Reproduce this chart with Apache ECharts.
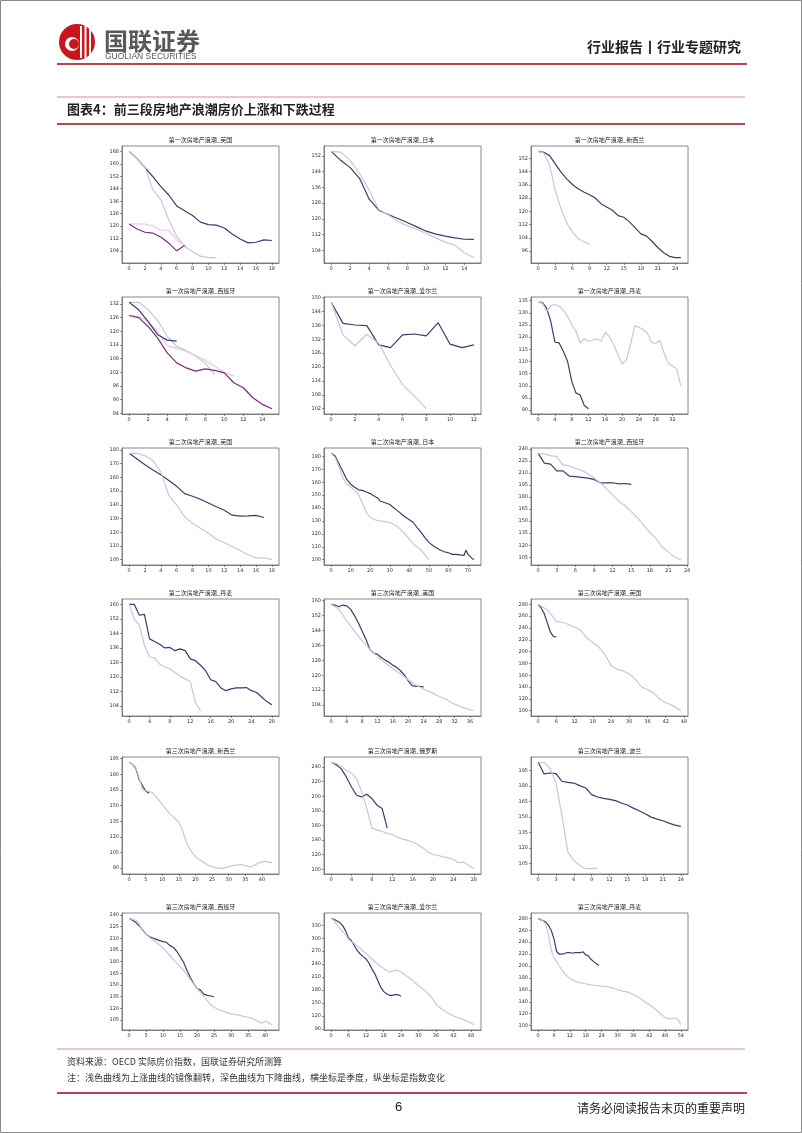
<!DOCTYPE html>
<html>
<head>
<meta charset="utf-8">
<script src="https://cdn.jsdelivr.net/npm/echarts@6/dist/echarts.min.js"></script>
<style>
  html, body { margin: 0; padding: 0; background: #fff; }
  #page { width: 802px; height: 1133px; }
</style>
</head>
<body>
<div id="page"></div>
<script>
// --- values (x = quarter index unless given as [x, y]) ---
const uk1Dark = [168, 163.3, 157.6, 151.7, 145.4, 140, 133, 129.9, 126.9, 122.6, 121, 120.7, 118.8, 115, 111.8, 109.3, 109.7, 111.2, 110.8]
const uk1Light = [168, 163.3, 157.6, 143.4, 136.9, 124.1, 113.5, 107.2, 103.6, 100.8, 99.8, 99.8]
const uk1Purple = [121.4, 118.2, 116.1, 115.5, 113.1, 109.1, 104.2, 107.6]
const uk1Pink = [121.4, 121.4, 121.4, 120.1, 117.4, 117.4, 111.2, 107.6]

const jp1Dark = [154.4, 149.8, 146.1, 140.5, 130, 124.4, 122.2, 120.2, 118.1, 115.9, 113.7, 112.2, 111.2, 110.3, 109.6, 109.5]
const jp1Light = [154.4, 154, 149.8, 143, 134.6, 124.9, 121.9, 118.8, 116.4, 114.7, 112.5, 110.3, 108, 106.6, 102.7, 100.2]

const nz1Dark = [156.2, 155.6, 153.6, 148.6, 143.6, 139.6, 136.2, 133.6, 131.6, 130, 128, 124.6, 122.6, 120.6, 117.4, 116.4, 113.6, 110, 106.4, 105, 101.6, 98, 95, 92.8, 92, 92]
const nz1Light = [156.2, 155.2, 148, 132.6, 121.6, 113, 107.6, 103.6, 101.6, 100.2]

const es1Dark = [132.7, 129.4, 124.2, 118.5, 116.1, 115.7]
const es1Light = [132.7, 132.7, 129.4, 124.7, 117.7, 113.4, 111.5, 109, 106, 101]
const es1Purple = [126.9, 126, 122.1, 117, 110.5, 106.1, 103.9, 102.5, 103.5, 102.8, 101.7, 97.4, 95.2, 90.8, 87.9, 86]
const es1Pink = [126.9, 126.5, 124.3, 119.9, 113.7, 112.5, 111.2, 109.3, 107.3, 104.6, 102, 100.3]

const ie1Dark = [148, 138.9, 138.2, 137.9, 129.6, 128.4, 133.9, 134.3, 133.5, 139.2, 129.9, 128.4, 129.6]
const ie1Light = [148, 133.9, 129.2, 134.2, 130.3, 120.7, 112.4, 107.3, 102]

const dk1Dark = [134.3, 134.3, 132, 126.5, 117.9, 117.6, 114.2, 110.1, 101.9, 97.1, 96.2, 91.9, 90.6]
const dk1Light = [134.3, 134, 130.6, 132.9, 133.4, 132.7, 131, 128.6, 125.2, 122.4, 117.6, 119.3, 118.3, 118.7, 119.3, 118.3, 122, 120.1, 117, 112.9, 109, 110.6, 117, 124.5, 124.1, 123.1, 121.7, 117.9, 117.3, 118.7, 113.5, 109.4, 108.1, 107, 99.9]

const uk2Dark = [177.6, 173.5, 169.2, 165.5, 161.9, 157.8, 153.5, 148.2, 146.3, 144.1, 141.4, 138.6, 136.1, 132.5, 131.8, 132, 132.3, 130.8]
const uk2Light = [177.6, 177.6, 175.9, 172.3, 163.9, 147, 139.8, 131.3, 126.5, 122.9, 119.3, 114.9, 112.5, 109.6, 106.7, 103.6, 101.2, 101.4, 100]

const jp2Dark = [[0, 182.4], [1, 181], [2, 180.5], [4, 174.4], [6, 168.3], [8, 162.2], [10, 158.5], [12, 156.1], [14, 154.1], [16, 153.7], [18, 152.4], [20, 151.2], [22, 149.3], [24, 147.6], [25, 145.5], [26, 145.1], [28, 143.9], [30, 142.7], [32, 140.2], [34, 137.8], [36, 135.4], [38, 132.9], [40, 131], [42, 128.8], [44, 124.9], [46, 121.2], [48, 117.1], [50, 113.4], [52, 111], [54, 109], [56, 107.3], [58, 106.1], [60, 105.4], [62, 104.1], [64, 104.1], [66, 103.7], [68, 103.4], [69, 107.3], [70, 104.1], [72, 101.2], [73, 100]]
const jp2Light = [[0, 182.4], [2, 179.3], [4, 172], [6, 163.4], [8, 158.5], [10, 156.1], [12, 153.7], [14, 150.5], [16, 143.9], [18, 136.6], [20, 132.9], [22, 131.2], [24, 130.2], [26, 129.8], [28, 129.3], [30, 128.8], [32, 127.3], [34, 125.6], [36, 122.7], [38, 119.5], [40, 115.9], [42, 112.2], [44, 109.8], [46, 107.3], [48, 103.7], [50, 100]]

const es2Dark = [234.5, 222.3, 221, 212.6, 212.6, 206.2, 205.4, 204.6, 203.7, 202, 197.8, 197.8, 197.8, 196.5, 196.9, 195.7]
const es2Light = [234.5, 233.7, 231.6, 230.3, 220.2, 218.9, 215.9, 213.4, 209.2, 204.1, 197.8, 190.6, 183, 174.6, 169.5, 161.9, 154.3, 145, 135.8, 128.2, 117.7, 111.4, 105, 102]

const dk2Dark = [160, 160, 154, 154.5, 141, 139.5, 138, 136, 136.3, 134.5, 135.5, 134.5, 130, 129, 126.5, 123.5, 118.5, 117.5, 114, 112.5, 113.5, 114, 114, 114.2, 112.5, 111.5, 109, 106.5, 104.8]
const dk2Light = [160, 152, 148.5, 137.5, 131, 130.5, 127, 125.5, 124.5, 122.5, 120.5, 119, 117.5, 106, 101.5]

const us3Dark = [158, 157.6, 156.7, 157.6, 157.2, 155.4, 152.2, 148.3, 143.8, 139.4, 134, 131.9, 131.3, 129.5, 128.1, 126.9, 125.4, 124.2, 122.4, 120.1, 117, 114.4, 114, 114, 113.8]
const us3Light = [[0, 158], [2, 155.4], [4, 149.2], [6, 143.8], [8, 138.5], [10, 134], [12, 130.1], [14, 126.5], [16, 123.6], [18, 120.6], [20, 117.6], [22, 114.7], [24, 112.6], [26, 110.8], [28, 108.6], [30, 106.9], [32, 104.5], [34, 102.8], [36, 101.5], [37, 101]]

const uk3Dark = [280, 273.8, 264.5, 249, 233.5, 225.8, 224.7]
const uk3Light = [[0, 280], [3, 270.7], [4, 264.5], [6, 251.6], [9, 248], [12, 241.2], [14, 236], [16, 223.1], [18, 215.4], [20, 207.6], [22, 194.7], [24, 176.6], [26, 169.9], [28, 167.3], [30, 162.2], [32, 153.4], [34, 140.5], [36, 135.3], [38, 130.1], [40, 119.7], [42, 113.5], [44, 109.4], [46, 103.1], [47, 100]]

const nz3Dark = [191.5, 189.5, 185.8, 175.1, 169.2, 163.9, 161.9]
const nz3Light = [[0, 191.5], [1, 189.5], [2, 186.5], [3, 177], [4, 165], [6, 163.5], [7, 162.5], [9, 155], [12, 143], [15, 134], [16, 127], [17, 117], [18, 110], [19, 105], [20, 101], [22, 96.5], [24, 92.5], [26, 90.5], [28, 89.5], [30, 91.5], [32, 93], [34, 93.5], [36, 91.5], [37, 91.5], [39, 95], [41, 96.5], [43, 95]]

const ru3Dark = [246.4, 243, 237.4, 226.1, 212.6, 201.4, 199.1, 202.7, 196.8, 187.8, 183.3, 156.3]
const ru3Light = [246.4, 245, 240.5, 235.1, 231.5, 223.9, 205.9, 183.3, 156.3, 154, 151.8, 149.5, 147.3, 144.1, 141.4, 139.6, 137.4, 133.8, 129.3, 123.9, 120.3, 118.9, 117.1, 115.8, 113.5, 109, 109.9, 105.4, 100.9]

const pl3Dark = [202.7, 191.5, 192.4, 191.8, 184.4, 183.4, 182.7, 180.2, 177.9, 171.5, 169.2, 167.9, 167, 165.7, 163.4, 161.5, 158.5, 156, 153.1, 149.8, 147.9, 146.3, 144, 142.1, 140.8]
const pl3Light = [202.7, 202.5, 197, 183, 151, 116, 108, 103, 100, 100, 100.5]

const es3Dark = [235.8, 233.3, 230.3, 226.1, 220.5, 215.4, 212.1, 210.4, 208.7, 207, 205.7, 204.9, 200.6, 198.5, 193.4, 186.6, 179.4, 168.8, 159.5, 151.8, 145.4, 143.3, 138.2, 136.5, 135.7, 134.8]
const es3Light = [[0, 235.8], [2, 233.3], [3, 228.2], [4, 219.7], [6, 211.2], [8, 204.9], [10, 197.6], [12, 187.9], [14, 178.1], [16, 168.8], [18, 156.9], [20, 145.4], [22, 134.8], [24, 124.2], [26, 118.7], [28, 115.7], [30, 112.7], [32, 111.4], [34, 109.3], [36, 107.2], [38, 103], [39, 100.8], [40, 103], [41, 101.7], [42, 98.8]]

const ie3Dark = [346, 343.8, 340, 336.1, 328.5, 317, 300.2, 294.1, 282.6, 271.1, 263.5, 257.4, 252, 242.1, 229.1, 217.6, 202.3, 187, 177.1, 171.7, 167.9, 167.9, 169.4, 169.4, 165.6]
const ie3Light = [[0, 346], [1, 341], [2, 330], [3, 322], [4, 315], [5, 307], [6, 297], [7, 292], [8, 288], [10, 276], [12, 264], [14, 252], [16, 240], [18, 230], [20, 222], [21, 224], [22, 226], [23, 225], [24, 222], [26, 212], [28, 202], [30, 190], [32, 180], [34, 167], [36, 148], [38, 136], [40, 127], [42, 120], [44, 115], [45, 113], [46, 110], [48, 104.5], [49, 100]]

const dk3Dark = [280, 277.2, 276.1, 273.3, 267.6, 259.2, 245.1, 224.3, 219.8, 219.8, 220.9, 222.6, 222.6, 221.4, 222.6, 222.6, 222.6, 223.7, 218.6, 216.9, 211.3, 207.4, 204, 201.1]
const dk3Light = [[0, 280], [1, 278.9], [2, 274.9], [3, 267.6], [4, 250.7], [5, 225.4], [6, 214.1], [8, 200], [10, 187.1], [12, 179.2], [14, 174.6], [16, 171.8], [18, 170.2], [20, 168.5], [22, 167.3], [24, 166.2], [26, 165.7], [28, 163.4], [30, 160.6], [32, 157.8], [34, 156.1], [36, 152.1], [38, 147.7], [40, 140.9], [42, 135.3], [44, 128.6], [46, 121.2], [48, 113.9], [50, 111.1], [52, 112.8], [53, 110], [54, 101.6]]

// tick labels
const xt18 = [0, 2, 4, 6, 8, 10, 12, 14, 16, 18]
const xt14 = [0, 2, 4, 6, 8, 10, 12, 14]
const xt12 = [0, 2, 4, 6, 8, 10, 12]
const xt24 = [0, 3, 6, 9, 12, 15, 18, 21, 24]
const xt28 = [0, 4, 8, 12, 16, 20, 24, 28]
const xt32 = [0, 4, 8, 12, 16, 20, 24, 28, 32]
const xt36 = [0, 4, 8, 12, 16, 20, 24, 28, 32, 36]
const xt40 = [0, 5, 10, 15, 20, 25, 30, 35, 40]
const xt48 = [0, 6, 12, 18, 24, 30, 36, 42, 48]
const xt54 = [0, 6, 12, 18, 24, 30, 36, 42, 48, 54]
const xt70 = [0, 10, 20, 30, 40, 50, 60, 70]
const yt104to168 = [104, 112, 120, 128, 136, 144, 152, 160, 168]
const yt104to152 = [104, 112, 120, 128, 136, 144, 152]
const yt96to152 = [96, 104, 112, 120, 128, 136, 144, 152]
const yt84to132 = [84, 90, 96, 102, 108, 114, 120, 126, 132]
const yt102to150 = [102, 108, 114, 120, 126, 132, 138, 144, 150]
const yt90to135 = [90, 95, 100, 105, 110, 115, 120, 125, 130, 135]
const yt100to180 = [100, 110, 120, 130, 140, 150, 160, 170, 180]
const yt105to240 = [105, 120, 135, 150, 165, 180, 195, 210, 225, 240]
const yt104to160 = [104, 112, 120, 128, 136, 144, 152, 160]
const yt100to280 = [100, 120, 140, 160, 180, 200, 220, 240, 260, 280]
const yt90to195 = [90, 105, 120, 135, 150, 165, 180, 195]
const yt100to240 = [100, 120, 140, 160, 180, 200, 220, 240]
const yt105to195 = [105, 120, 135, 150, 165, 180, 195]
const yt90to330 = [90, 120, 150, 180, 210, 240, 270, 300, 330]

const colors = { dark: '#3c3c6c', light: '#c4c8da', purple: '#7b2c80', pink: '#e4c8e4' }

const panels = [
  { title: '第一次房地产浪潮_英国', lines: [[uk1Dark, 'dark'], [uk1Light, 'light'], [uk1Pink, 'pink'], [uk1Purple, 'purple']], xt: xt18, yt: yt104to168 },
  { title: '第一次房地产浪潮_日本', lines: [[jp1Dark, 'dark'], [jp1Light, 'light']], xt: xt14, yt: yt104to152 },
  { title: '第一次房地产浪潮_新西兰', lines: [[nz1Dark, 'dark'], [nz1Light, 'light']], xt: xt24, yt: yt96to152 },
  { title: '第一次房地产浪潮_西班牙', lines: [[es1Light, 'light'], [es1Pink, 'pink'], [es1Dark, 'dark'], [es1Purple, 'purple']], xt: xt14, yt: yt84to132 },
  { title: '第一次房地产浪潮_爱尔兰', lines: [[ie1Dark, 'dark'], [ie1Light, 'light']], xt: xt12, yt: yt102to150 },
  { title: '第一次房地产浪潮_丹麦', lines: [[dk1Dark, 'dark'], [dk1Light, 'light']], xt: xt32, yt: yt90to135 },
  { title: '第二次房地产浪潮_英国', lines: [[uk2Dark, 'dark'], [uk2Light, 'light']], xt: xt18, yt: yt100to180 },
  { title: '第二次房地产浪潮_日本', lines: [[jp2Dark, 'dark'], [jp2Light, 'light']], xt: xt70, yt: yt100to180 },
  { title: '第二次房地产浪潮_西班牙', lines: [[es2Dark, 'dark'], [es2Light, 'light']], xt: xt24, yt: yt105to240 },
  { title: '第二次房地产浪潮_丹麦', lines: [[dk2Dark, 'dark'], [dk2Light, 'light']], xt: xt28, yt: yt104to160 },
  { title: '第三次房地产浪潮_美国', lines: [[us3Dark, 'dark'], [us3Light, 'light']], xt: xt36, yt: yt104to160 },
  { title: '第三次房地产浪潮_英国', lines: [[uk3Dark, 'dark'], [uk3Light, 'light']], xt: xt48, yt: yt100to280 },
  { title: '第三次房地产浪潮_新西兰', lines: [[nz3Dark, 'dark'], [nz3Light, 'light']], xt: xt40, yt: yt90to195 },
  { title: '第三次房地产浪潮_俄罗斯', lines: [[ru3Dark, 'dark'], [ru3Light, 'light']], xt: xt28, yt: yt100to240 },
  { title: '第三次房地产浪潮_波兰', lines: [[pl3Dark, 'dark'], [pl3Light, 'light']], xt: xt24, yt: yt105to195 },
  { title: '第三次房地产浪潮_西班牙', lines: [[es3Dark, 'dark'], [es3Light, 'light']], xt: xt40, yt: yt105to240 },
  { title: '第三次房地产浪潮_爱尔兰', lines: [[ie3Dark, 'dark'], [ie3Light, 'light']], xt: xt48, yt: yt90to330 },
  { title: '第三次房地产浪潮_丹麦', lines: [[dk3Dark, 'dark'], [dk3Light, 'light']], xt: xt54, yt: yt100to280 }
]

// layout of the 3 x 6 panel grid
const colLeft = [122, 324, 531]
const rowTop = [146, 297, 448, 599, 757, 913]
const boxW = 157
const boxH = 117

const toPoints = (arr) => arr.map((v, i) => Array.isArray(v) ? v : [i, v])

const grids = [], xAxes = [], yAxes = [], series = [], titles = []
panels.forEach((p, i) => {
  const left = colLeft[i % 3]
  const top = rowTop[Math.floor(i / 3)]
  let xMax = 0, yMin = Infinity, yMax = -Infinity
  p.lines.forEach(([arr]) => {
    toPoints(arr).forEach(([x, y]) => {
      xMax = Math.max(xMax, x); yMin = Math.min(yMin, y); yMax = Math.max(yMax, y)
    })
  })
  // matplotlib style 5% margins
  const yPad = (yMax - yMin) * 0.05
  grids.push({ left, top, width: boxW, height: boxH, show: true, borderColor: '#6a6a6a', borderWidth: 0.8, backgroundColor: '#fff' })
  const tickLabel = { fontSize: 5, color: '#333', fontFamily: 'DejaVu Sans' }
  xAxes.push({
    gridIndex: i, type: 'value', min: -xMax * 0.05, max: xMax * 1.05,
    axisLine: { show: true, onZero: false, lineStyle: { color: '#6a6a6a', width: 0.8 } },
    axisTick: { show: true, length: 2, customValues: p.xt, lineStyle: { color: '#444', width: 0.6 } },
    axisLabel: { customValues: p.xt, margin: 3, ...tickLabel },
    splitLine: { show: false }
  })
  yAxes.push({
    gridIndex: i, type: 'value', min: yMin - yPad, max: yMax + yPad,
    axisLine: { show: true, onZero: false, lineStyle: { color: '#6a6a6a', width: 0.8 } },
    axisTick: { show: true, length: 2, customValues: p.yt, lineStyle: { color: '#444', width: 0.6 } },
    axisLabel: { customValues: p.yt, margin: 3, ...tickLabel },
    splitLine: { show: false }
  })
  titles.push({
    text: p.title, left: left + boxW / 2, top: top - 9, textAlign: 'center', padding: 0,
    textStyle: { fontSize: 6, fontWeight: 'normal', color: '#222', fontFamily: 'Noto Sans CJK SC' }
  })
  p.lines.forEach(([arr, kind]) => {
    series.push({
      type: 'line', xAxisIndex: i, yAxisIndex: i, data: toPoints(arr),
      showSymbol: false, symbol: 'none', silent: true,
      lineStyle: { color: colors[kind], width: 1.2 }
    })
  })
})

const redLine = '#b8444f'
const pinkLine = '#cc939b'
const cjk = 'Noto Sans CJK SC'
const graphic = [
  { type: 'rect', shape: { x: 0.5, y: 0.5, width: 801, height: 1132 }, style: { fill: null, stroke: '#8a8a8a', lineWidth: 1 } },
  // logo
  { type: 'circle', shape: { cx: 77, cy: 42, r: 18 }, style: { fill: '#c9161d' } },
  { type: 'rect', shape: { x: 80, y: 26, width: 2, height: 32 }, style: { fill: '#fff' } },
  { type: 'rect', shape: { x: 84.5, y: 22, width: 2, height: 36 }, style: { fill: '#fff' } },
  { type: 'rect', shape: { x: 89, y: 26, width: 2, height: 30 }, style: { fill: '#fff' } },
  { type: 'circle', shape: { cx: 72, cy: 44, r: 7 }, style: { fill: '#fff' } },
  { type: 'circle', shape: { cx: 74, cy: 44, r: 5 }, style: { fill: '#c9161d' } },
  { type: 'text', left: 104, top: 29, style: { text: '国联证券', font: 'bold 24px "Noto Sans CJK SC"', fill: '#5a5859' } },
  { type: 'text', left: 105, top: 52, style: { text: 'GUOLIAN SECURITIES', font: '8.5px "Liberation Sans"', fill: '#5a5859' } },
  { type: 'text', right: 61, top: 40, style: { text: '行业报告丨行业专题研究', font: 'bold 14px "Noto Sans CJK SC"', fill: '#222' } },
  { type: 'line', shape: { x1: 57, y1: 64, x2: 747, y2: 64 }, style: { stroke: redLine, lineWidth: 2 } },
  // figure title
  { type: 'line', shape: { x1: 57, y1: 97, x2: 745, y2: 97 }, style: { stroke: pinkLine, lineWidth: 1 } },
  { type: 'text', left: 67, top: 103, style: { text: '图表4：前三段房地产浪潮房价上涨和下跌过程', font: 'bold 13px "Noto Sans CJK SC"', fill: '#222' } },
  { type: 'line', shape: { x1: 57, y1: 124, x2: 745, y2: 124 }, style: { stroke: redLine, lineWidth: 2 } },
  // footer
  { type: 'line', shape: { x1: 57, y1: 1049, x2: 745, y2: 1049 }, style: { stroke: pinkLine, lineWidth: 1 } },
  { type: 'text', left: 67, top: 1057, style: { text: '资料来源：OECD 实际房价指数，国联证券研究所测算', font: '9px "Noto Sans CJK SC"', fill: '#333' } },
  { type: 'text', left: 67, top: 1073, style: { text: '注：浅色曲线为上涨曲线的镜像翻转，深色曲线为下降曲线，横坐标是季度，纵坐标是指数变化', font: '9px "Noto Sans CJK SC"', fill: '#333' } },
  { type: 'line', shape: { x1: 57, y1: 1093, x2: 747, y2: 1093 }, style: { stroke: redLine, lineWidth: 2 } },
  { type: 'text', left: 395, top: 1101, style: { text: '6', font: '13px "Liberation Sans"', fill: '#222' } },
  { type: 'text', right: 57, top: 1102, style: { text: '请务必阅读报告末页的重要声明', font: '12px "Noto Sans CJK SC"', fill: '#222' } }
]

const chart = echarts.init(document.getElementById('page'))
chart.setOption({
  animation: false,
  backgroundColor: '#fff',
  textStyle: { fontFamily: cjk },
  title: titles,
  grid: grids,
  xAxis: xAxes,
  yAxis: yAxes,
  series,
  graphic
})
</script>
</body>
</html>
